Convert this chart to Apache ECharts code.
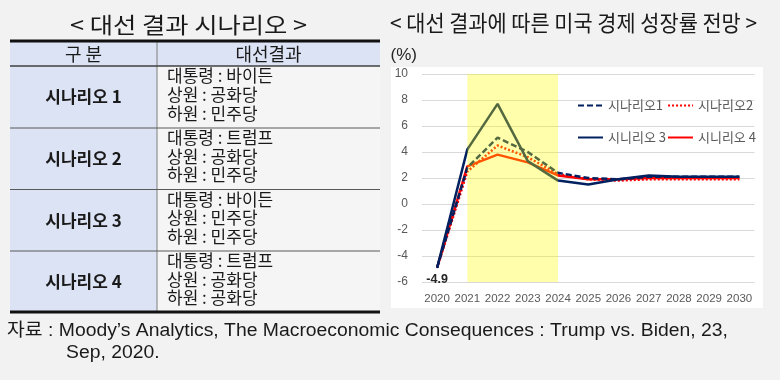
<!DOCTYPE html>
<html>
<head>
<meta charset="utf-8">
<script src="https://cdn.jsdelivr.net/npm/echarts@6/dist/echarts.min.js"></script>
<style>
html,body{margin:0;padding:0;background:#f2f2f2;}
#c{width:780px;height:380px;}
</style>
</head>
<body>
<div id="c"></div>
<script>
// ---------- data ----------
const years = ['2020','2021','2022','2023','2024','2025','2026','2027','2028','2029','2030'];
const seriesNames = ['시나리오1', '시나리오2', '시니리오 3', '시니리오 4'];
const scenario1 = [-4.9, 2.8, 5.1, 4.0, 2.4, 2.0, 1.9, 2.1, 2.1, 2.1, 2.1];
const scenario2 = [-4.9, 2.5, 4.5, 3.6, 2.3, 1.9, 1.8, 1.9, 1.9, 1.9, 1.9];
const scenario3 = [-4.9, 4.2, 7.7, 3.3, 1.8, 1.5, 1.9, 2.2, 2.1, 2.1, 2.1];
const scenario4 = [-4.9, 2.9, 3.8, 3.2, 2.2, 1.9, 1.9, 2.0, 2.0, 2.0, 2.0];
const bandRange = ['2021', '2024'];
const yTicks = {min: -6, max: 10, interval: 2};

const leftTitle = '< 대선 결과 시나리오 >';
const rightTitle = '< 대선 결과에 따른 미국 경제 성장률 전망 >';
const unitLabel = '(%)';
const tableHeaders = ['구 분', '대선결과'];
const scenarioLabels = ['시나리오 1', '시나리오 2', '시나리오 3', '시나리오 4'];
const presidentRows = ['대통령 : 바이든', '대통령 : 트럼프', '대통령 : 바이든', '대통령 : 트럼프'];
const senateRows = ['상원 : 공화당', '상원 : 공화당', '상원 : 민주당', '상원 : 공화당'];
const houseRows = ['하원 : 민주당', '하원 : 민주당', '하원 : 민주당', '하원 : 공화당'];
const sourceLines = ['자료 : Moody’s Analytics, The Macroeconomic Consequences : Trump vs. Biden, 23,', 'Sep, 2020.'];

// ---------- helpers ----------
const KR = '"Noto Sans CJK KR", sans-serif';
const LAT = '"Liberation Sans", "Noto Sans CJK KR", sans-serif';
const mctx = document.createElement('canvas').getContext('2d');
function textWidth(text, size, family, weight) {
  mctx.font = (weight || 'normal') + ' ' + size + 'px ' + family;
  return mctx.measureText(text).width;
}
function fitScale(text, size, family, target, weight) {
  return target / textWidth(text, size, family, weight);
}

// ---------- table (graphic) ----------
const T = {x0: 10, x1: 380, col: 157, top: 41, head: 66, rowB: [128, 189.5, 251, 312]};
const g = [];
g.push({type: 'rect', z: -10, shape: {x: 0, y: 0, width: 780, height: 380}, style: {fill: '#f2f2f2'}});
// chart white panel
g.push({type: 'rect', z: -9, shape: {x: 391, y: 67, width: 372, height: 241}, style: {fill: '#ffffff'}});
// table backgrounds
g.push({type: 'rect', z: -8, shape: {x: T.x0, y: T.top, width: T.col - T.x0, height: T.rowB[3] - T.top}, style: {fill: '#dce3f5'}});
g.push({type: 'rect', z: -8, shape: {x: T.col, y: T.top, width: T.x1 - T.col, height: T.head - T.top}, style: {fill: '#dce3f5'}});
g.push({type: 'rect', z: -8, shape: {x: T.col, y: T.head, width: T.x1 - T.col, height: T.rowB[3] - T.head}, style: {fill: '#f5f5f5'}});
// lines
g.push({type: 'line', z: -7, shape: {x1: T.col, y1: T.top, x2: T.col, y2: T.rowB[3]}, style: {stroke: '#7f7f7f', lineWidth: 1}});
g.push({type: 'line', z: -6, shape: {x1: T.x0, y1: T.head, x2: T.x1, y2: T.head}, style: {stroke: '#404040', lineWidth: 1.5}});
for (let i = 0; i < 3; i++) {
  g.push({type: 'line', z: -6, shape: {x1: T.x0, y1: T.rowB[i], x2: T.x1, y2: T.rowB[i]}, style: {stroke: '#595959', lineWidth: 1}});
}
g.push({type: 'line', z: -5, shape: {x1: T.x0, y1: T.top, x2: T.x1, y2: T.top}, style: {stroke: '#111', lineWidth: 3}});
g.push({type: 'line', z: -5, shape: {x1: T.x0, y1: T.rowB[3], x2: T.x1, y2: T.rowB[3]}, style: {stroke: '#111', lineWidth: 3}});
// header texts
g.push({type: 'text', z: 1, x: (T.x0 + T.col) / 2, y: (T.top + T.head) / 2 + 1,
  style: {text: tableHeaders[0], fontSize: 18, fontFamily: KR, fill: '#1a1a1a', textAlign: 'center', textVerticalAlign: 'middle'}});
g.push({type: 'text', z: 1, x: (T.col + T.x1) / 2, y: (T.top + T.head) / 2 + 1,
  style: {text: tableHeaders[1], fontSize: 18, fontFamily: KR, fill: '#1a1a1a', textAlign: 'center', textVerticalAlign: 'middle'}});
for (let i = 0; i < 4; i++) {
  const top = i === 0 ? T.head : T.rowB[i - 1];
  const c = (top + T.rowB[i]) / 2;
  g.push({type: 'text', z: 1, x: (T.x0 + T.col) / 2, y: c,
    style: {text: scenarioLabels[i], fontSize: 17, fontWeight: 'bold', fontFamily: KR, fill: '#1a1a1a', textAlign: 'center', textVerticalAlign: 'middle'}});
  const lines = [presidentRows[i], senateRows[i], houseRows[i]];
  lines.forEach((t, k) => {
    g.push({type: 'text', z: 1, x: 167, y: c - 21 + k * 18.6,
      style: {text: t, fontSize: 17, fontFamily: KR, fill: '#1a1a1a', textAlign: 'left', textVerticalAlign: 'middle'}});
  });
}
// titles
const lts = fitScale(leftTitle, 22, KR, 237);
g.push({type: 'text', z: 1, x: 70, y: 25, scaleX: lts,
  style: {text: leftTitle, fontSize: 22, fontFamily: KR, fill: '#1a1a1a', textAlign: 'left', textVerticalAlign: 'middle'}});
const rts = fitScale(rightTitle, 22, KR, 367);
g.push({type: 'text', z: 1, x: 390, y: 23, scaleX: rts,
  style: {text: rightTitle, fontSize: 22, fontFamily: KR, fill: '#1a1a1a', textAlign: 'left', textVerticalAlign: 'middle'}});
// source
const sfs = fitScale(sourceLines[0], 18, LAT, 721);
g.push({type: 'text', z: 1, x: 7, y: 331, scaleX: sfs,
  style: {text: sourceLines[0], fontSize: 18, fontFamily: LAT, fill: '#1a1a1a', textAlign: 'left', textVerticalAlign: 'middle'}});
g.push({type: 'text', z: 1, x: 66, y: 353, scaleX: sfs,
  style: {text: sourceLines[1], fontSize: 18, fontFamily: LAT, fill: '#1a1a1a', textAlign: 'left', textVerticalAlign: 'middle'}});

// ---------- chart ----------
const navy = '#002060';
const red = '#ff0000';
const chart = echarts.init(document.getElementById('c'), null, {renderer: 'canvas'});
const legendText = {fontSize: 13, color: '#595959', fontFamily: KR};
const legendItem = {opacity: 0, color: 'transparent', borderWidth: 0};
const option = {
  animation: false,
  backgroundColor: '#f2f2f2',
  graphic: {elements: g},
  legend: [
    {data: [seriesNames[0], seriesNames[1]], left: 572, top: 94, itemWidth: 25, itemHeight: 14, itemGap: 4, textStyle: legendText, itemStyle: legendItem},
    {data: [seriesNames[2], seriesNames[3]], left: 572, top: 126, itemWidth: 25, itemHeight: 14, itemGap: 1, textStyle: legendText, itemStyle: legendItem}
  ],
  grid: {left: 422, right: 25.5, top: 74, bottom: 98},
  xAxis: {
    type: 'category', data: years, boundaryGap: true,
    axisLine: {show: false}, axisTick: {show: false},
    axisLabel: {color: '#595959', fontSize: 11.5, margin: 11, interval: 0, fontFamily: LAT}
  },
  yAxis: {
    type: 'value', min: yTicks.min, max: yTicks.max, interval: yTicks.interval,
    name: unitLabel, nameLocation: 'end', nameGap: 19,
    nameTextStyle: {fontSize: 17, color: '#262626', align: 'right', verticalAlign: 'middle', padding: [0, 5, 0, 0], fontFamily: LAT},
    axisLine: {show: false}, axisTick: {show: false},
    axisLabel: {color: '#595959', fontSize: 12, margin: 14, fontFamily: LAT},
    splitLine: {lineStyle: {color: '#d9d9d9', width: 1}}
  },
  series: [
    {name: seriesNames[3], type: 'line', data: scenario4, symbol: 'none', z: 2,
      lineStyle: {color: red, width: 2.5}, itemStyle: {color: red}},
    {name: seriesNames[1], type: 'line', data: scenario2, symbol: 'none', z: 2,
      lineStyle: {color: red, width: 2.5, type: [2, 2]}, itemStyle: {color: red}},
    {name: seriesNames[2], type: 'line', symbol: 'none', z: 2,
      data: scenario3.map((v, i) => i === 0 ? {value: v, symbol: 'circle', symbolSize: 1,
        label: {show: true, position: 'bottom', distance: 5, formatter: '{c}', fontWeight: 'bold', fontSize: 12.5, color: '#262626', fontFamily: LAT}} : v),
      lineStyle: {color: navy, width: 2.5}, itemStyle: {color: navy}},
    {name: seriesNames[0], type: 'line', data: scenario1, symbol: 'none', z: 2,
      lineStyle: {color: navy, width: 2.5, type: [6, 3]}, itemStyle: {color: navy},
      markArea: {silent: true, z: 10, itemStyle: {color: 'rgba(255,255,0,0.33)'},
        data: [[{xAxis: bandRange[0], yAxis: yTicks.max}, {xAxis: bandRange[1], yAxis: yTicks.min}]]}}
  ]
};
chart.setOption(option);
</script>
</body>
</html>
